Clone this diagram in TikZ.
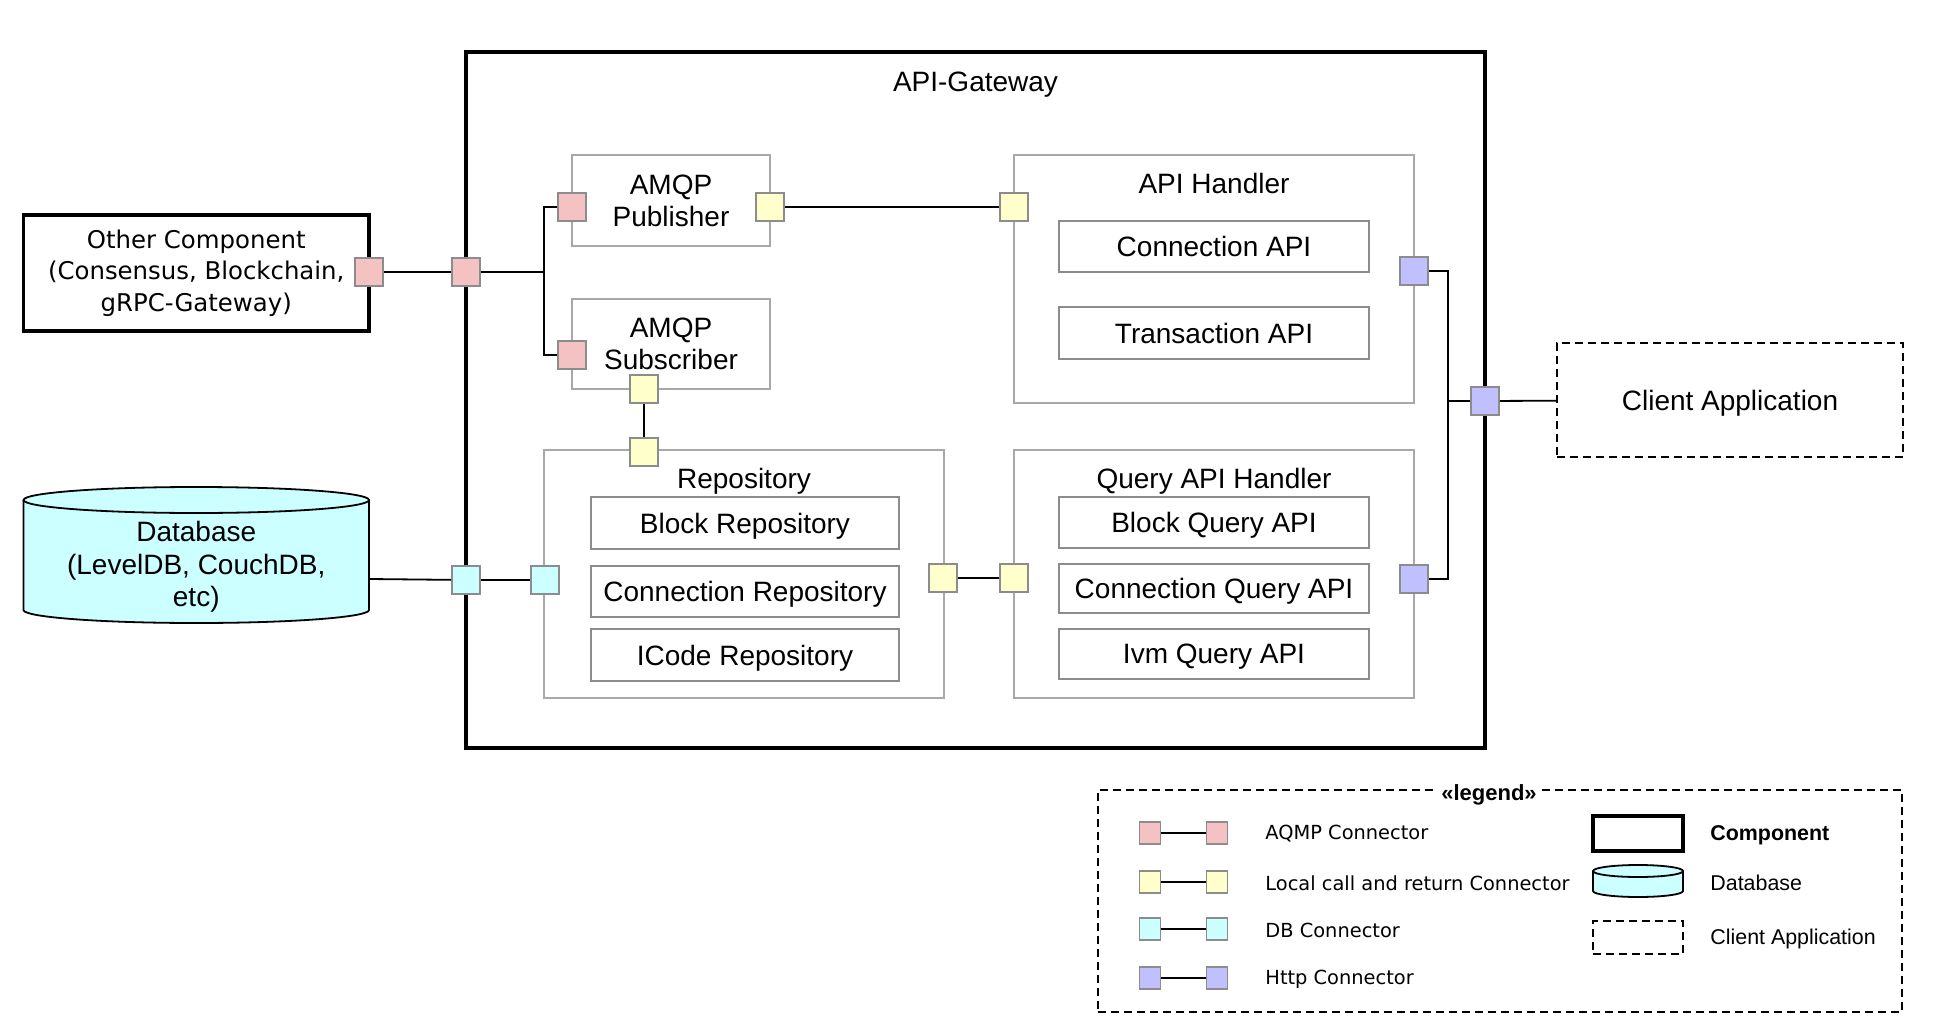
\documentclass[tikz,border=0pt]{standalone}
\usepackage{fontspec}
\setmainfont{Liberation Sans}
\newfontfamily\lucida{DejaVu Sans}
\usepackage{xcolor}
\definecolor{r1}{HTML}{F4C2C2}
\definecolor{y1}{HTML}{FFFFCC}
\definecolor{c1}{HTML}{CCFFFF}
\definecolor{b1}{HTML}{C0C0FF}
\definecolor{g1}{HTML}{8C8C8C}
\definecolor{g2}{HTML}{A8A8A8}
\usetikzlibrary{positioning}

\tikzset{
  port/.style={draw=g1, line width=0.85pt, minimum size=14pt, inner sep=0pt},
  lport/.style={draw=g1, line width=0.85pt, minimum width=10.5pt, minimum height=11pt, inner sep=0pt},
  comp/.style={draw=black, line width=1.6pt, inner sep=0pt},
  part/.style={draw=g2, line width=0.8pt, inner sep=0pt},
  item/.style={draw=g1, line width=0.9pt, inner sep=0pt, text depth=0pt, font=\fontsize{14}{17}\selectfont},
  txt/.style={font=\fontsize{14}{16}\selectfont, align=center, inner sep=0pt, text depth=0pt},
  client/.style={draw=black, line width=1pt, dash pattern=on 4pt off 2.5pt},
  wire/.style={line width=0.9pt},
  ltxt/.style={font=\lucida\fontsize{9.7}{12}\selectfont, anchor=west, inner sep=0pt},
  rtxt/.style={font=\fontsize{10.7}{13}\selectfont, anchor=west, inner sep=0pt},
}

\begin{document}
\begin{tikzpicture}[x=0.5pt, y=-0.5pt]
  \useasboundingbox (0,0) rectangle (1936,1032);
  % 外框和各个部件
  \node[comp, minimum width=509.5pt, minimum height=348pt] (gw) at (975.5,400) {};
  \node[txt] (gwT) at (975.5,82) {API-Gateway};
  \node[comp, minimum width=172.75pt, minimum height=58pt, align=center, font=\lucida\fontsize{12.2}{15.7}\selectfont] (other) at (196.25,273) {Other Component\\(Consensus, Blockchain,\\gRPC-Gateway)};
  \node[part, txt, minimum width=99pt, minimum height=45.5pt] (pub) at (671,200.5) {AMQP\\Publisher};
  \node[part, txt, minimum width=99pt, minimum height=45pt] (sub) at (671,344) {AMQP\\Subscriber};

  \node[part, minimum width=200pt, minimum height=124pt] (apih) at (1214,279) {};
  \node[txt] (apihT) at (1214,183) {API Handler};
  \node[item, minimum width=155pt, minimum height=25.5pt] (capi) at (1214,246.5) {Connection API};
  \node[item, minimum width=155pt, minimum height=26pt] (tapi) at (1214,333) {Transaction API};

  \node[part, minimum width=200pt, minimum height=124pt] (repo) at (744,574) {};
  \node[txt] (repoT) at (744,478) {Repository};
  \node[item, minimum width=154pt, minimum height=26pt] (brepo) at (745,523) {Block Repository};
  \node[item, minimum width=154pt, minimum height=25.5pt] (crepo) at (745,591.5) {Connection Repository};
  \node[item, minimum width=154pt, minimum height=26pt] (irepo) at (745,655) {ICode Repository};

  \node[part, minimum width=200pt, minimum height=124pt] (qapih) at (1214,574) {};
  \node[txt] (qapihT) at (1214,478) {Query API Handler};
  \node[item, minimum width=155pt, minimum height=25.5pt] (bqapi) at (1214,522.5) {Block Query API};
  \node[item, minimum width=155pt, minimum height=24.5pt] (cqapi) at (1214,588.5) {Connection Query API};
  \node[item, minimum width=155pt, minimum height=25pt] (iqapi) at (1214,654) {Ivm Query API};

  \node[client, txt, minimum width=173pt, minimum height=57pt] (client) at (1730,400) {Client Application};

  % 数据库圆柱
  \fill[c1] (23.5,500) -- (23.5,610) arc[start angle=180, end angle=0, x radius=172.75, y radius=13] -- (369,500) -- cycle;
  \draw[line width=0.9pt] (23.5,500) -- (23.5,610) arc[start angle=180, end angle=0, x radius=172.75, y radius=13] -- (369,500);
  \draw[line width=0.9pt, fill=c1] (196.25,500) ellipse [x radius=172.75, y radius=13];
  \node[txt, font=\fontsize{14}{16.4}\selectfont] (db) at (196.25,564) {Database\\(LevelDB, CouchDB,\\etc)};
  \coordinate (dbR) at (369,579);

  % 端口
  \node[port, fill=r1] (otherP) at (369,272) {};
  \node[port, fill=r1] (gwP) at (466,272) {};
  \node[port, fill=r1] (pubP) at (572,207) {};
  \node[port, fill=y1] (pubY) at (770,207) {};
  \node[port, fill=r1] (subP) at (572,355) {};
  \node[port, fill=y1] (subY) at (644,389) {};
  \node[port, fill=y1] (apihY) at (1014,207) {};
  \node[port, fill=y1] (repoY) at (644,452) {};
  \node[port, fill=y1] (repoR) at (943,578) {};
  \node[port, fill=y1] (qapihY) at (1014,578) {};
  \node[port, fill=c1] (gwC) at (466,580) {};
  \node[port, fill=c1] (repoC) at (545,580) {};
  \node[port, fill=b1] (apihB) at (1414,271) {};
  \node[port, fill=b1] (qapihB) at (1414,579) {};
  \node[port, fill=b1] (gwB) at (1485,401) {};

  % 连线
  \coordinate (jA) at (544,272);
  \coordinate (jB) at (1448,401);
  \draw[wire] (otherP) -- (gwP);
  \draw[wire] (gwP) -- (jA);
  \draw[wire] (pubP.west) -| (jA) |- (subP.west);
  \draw[wire] (pubY) -- (apihY);
  \draw[wire] (subY) -- (repoY);
  \draw[wire] (repoR) -- (qapihY);
  \draw[wire] (dbR) -- (gwC);
  \draw[wire] (gwC) -- (repoC);
  \draw[wire] (apihB.east) -| (jB) |- (qapihB.east);
  \draw[wire] (jB) -- (gwB);
  \draw[wire] (gwB) -- (client);

  % 图例
  \node[client, minimum width=402pt, minimum height=111pt] (legend) at (1500,901) {};
  \node[fill=white, inner xsep=2pt, inner ysep=1pt, font=\bfseries\fontsize{11}{13}\selectfont] (legendT) at (1489,795) {«legend»};

  \node[lport, fill=r1] (lgA1) at (1150,833) {};
  \node[lport, fill=r1] (lgA2) at (1217,833) {};
  \node[lport, fill=y1] (lgB1) at (1150,882) {};
  \node[lport, fill=y1] (lgB2) at (1217,882) {};
  \node[lport, fill=c1] (lgC1) at (1150,929) {};
  \node[lport, fill=c1] (lgC2) at (1217,929) {};
  \node[lport, fill=b1] (lgD1) at (1150,978) {};
  \node[lport, fill=b1] (lgD2) at (1217,978) {};
  \draw[wire] (lgA1) -- (lgA2);
  \draw[wire] (lgB1) -- (lgB2);
  \draw[wire] (lgC1) -- (lgC2);
  \draw[wire] (lgD1) -- (lgD2);
  \node[ltxt] (lgAT) at (1265,834) {AQMP Connector};
  \node[ltxt] (lgBT) at (1265,883) {Local call and return Connector};
  \node[ltxt] (lgCT) at (1265,930) {DB Connector};
  \node[ltxt] (lgDT) at (1265,979) {Http Connector};

  \node[comp, minimum width=45pt, minimum height=17.5pt] (lgComp) at (1638,833.5) {};
  \fill[c1] (1593,871) -- (1593,891) arc[start angle=180, end angle=0, x radius=45, y radius=6] -- (1683,871) -- cycle;
  \draw[line width=0.9pt] (1593,871) -- (1593,891) arc[start angle=180, end angle=0, x radius=45, y radius=6] -- (1683,871);
  \draw[line width=0.9pt, fill=c1] (1638,871) ellipse [x radius=45, y radius=6];
  \node[client, minimum width=45pt, minimum height=16.5pt] (lgClient) at (1638,937.5) {};
  \node[rtxt, font=\bfseries\fontsize{10.7}{13}\selectfont] (lgCompT) at (1710,835) {Component};
  \node[rtxt] (lgDbT) at (1710,883) {Database};
  \node[rtxt] (lgClientT) at (1710,939) {Client Application};
\end{tikzpicture}
\end{document}
